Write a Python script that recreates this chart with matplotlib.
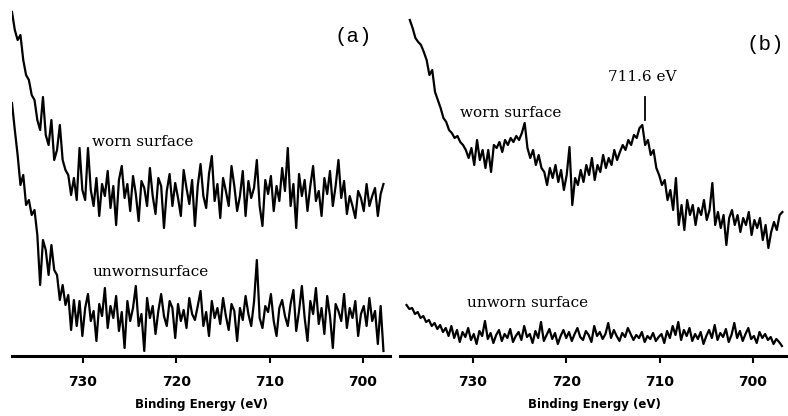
import numpy as np
from matplotlib import pyplot as plt

# XPS Fe 2p spectra, intensity in arbitrary units

# panel (a)
a_start, a_end = 737.6, 697.8
worn_a = [344, 326, 316, 321, 296, 281, 276, 261, 256, 236, 226, 259, 221, 211, 236, 196,
          206, 231, 196, 186, 181, 161, 178, 156, 208, 166,
          156, 208, 166, 150, 178, 140, 172, 160, 185, 148, 170, 131, 176, 190, 158, 172,
          145, 180, 162, 135, 175, 168, 150, 188, 160, 142, 178, 170, 128, 165, 182, 150,
          173, 158, 140, 186, 168, 152, 176, 130, 170, 192, 160, 148, 182, 200, 155, 172,
          138, 178, 165, 150, 190, 170, 145, 160, 185, 140, 175, 158, 168, 196, 150, 130,
          176, 162, 180, 145, 170, 155, 188, 165, 208, 150, 172, 128, 182, 160, 176, 145,
          170, 190, 155, 165, 140, 178, 162, 185, 150, 170, 196, 158, 175, 142, 160, 150,
          138, 165, 158, 145, 172, 150, 160, 168, 140, 162, 172]
unworn_a = [253, 226, 201, 171, 181, 151, 156, 141, 146, 121, 71, 116, 106, 81, 111, 86,
            81, 56, 71, 51, 61, 26, 56,
            30, 55, 20, 48, 62, 35, 45, 15, 52, 40, 68, 28, 50, 38, 60, 25, 44, 8,
            55, 35, 48, 70, 30, 42, 5, 58, 38, 50, 22, 45, 62, 40, 30, 55, 48, 18,
            52, 35, 46, 28, 58, 42, 36, 50, 65, 30, 44, 20, 55, 38, 48, 32, 58, 40,
            26, 52, 45, 15, 48, 36, 60, 42, 30, 54, 96, 38, 28, 50, 44, 62, 35, 20,
            48, 56, 40, 30, 52, 66, 25, 45, 70, 38, 15, 55, 42, 68, 32, 48, 22, 60,
            40, 8, 52, 45, 35, 62, 28, 48, 38, 55, 20, 42, 50, 30, 58, 35, 45, 12, 50, 5]

# panel (b)
b_worn_start, b_worn_end = 736.75, 696.85
worn_b = [336, 328, 318, 314, 311, 304, 296, 281, 286, 264, 256, 248, 238, 234, 226, 223,
          218, 220, 214, 211, 206, 198, 208, 191, 216, 196, 206, 188, 206, 184, 211, 208,
          214, 204, 216, 211, 218, 214, 220, 216, 223, 233, 208, 198, 206, 191, 201, 188,
          184, 171, 188, 178, 191, 174, 186, 166, 181, 209, 151, 178, 171, 186, 174, 191,
          181, 198, 176, 191, 184, 201, 188, 198, 191, 206, 196, 204, 211, 206, 216, 211,
          221, 218, 228, 231, 211, 216, 201, 206, 188, 181, 171, 176, 156, 166, 146, 178,
          131, 151, 126, 156, 141, 151, 131, 148, 141, 156, 136, 146, 173, 131, 144, 128,
          141, 111, 138, 146, 131, 141, 124, 138, 131, 144, 121, 136, 128, 138, 116, 131,
          108, 124, 134, 126, 141, 144]
b_unworn_start, b_unworn_end = 737.1, 696.9
unworn_b = [51, 47, 48, 42, 44, 38, 40, 34, 36, 30, 33, 27, 31, 24, 28,
            20, 30, 18, 26, 14, 24, 19, 28, 16, 22, 12, 25, 20, 35, 17, 23, 13, 21, 26, 15,
            22, 18, 27, 14, 20, 24, 16, 30, 19, 22, 13, 25, 18, 34, 15, 21, 27, 17, 23, 12,
            20, 26, 18, 24, 15, 22, 28, 19, 16, 25, 21, 14, 30, 20, 24, 17, 22, 33, 18, 26,
            20, 15, 23, 19, 28, 22, 16, 21, 18, 24, 14, 20, 17, 23, 15, 19, 22, 13, 25, 18,
            30, 21, 34, 16, 26, 20, 28, 15, 22, 17, 24, 12, 20, 26, 18, 31, 16, 23, 19, 27,
            14, 21, 33, 18, 25, 15, 22, 28, 17, 20, 13, 24, 18, 22, 16, 19, 12, 17, 14, 10]

ticks = [730, 720, 710, 700]
peak_ev = 711.6

fig = plt.figure(figsize=(7.88, 4.16), dpi=100)
ax1 = fig.add_axes([12 / 788, 60 / 416, 378 / 788, 350 / 416])
ax2 = fig.add_axes([400 / 788, 60 / 416, 388 / 788, 350 / 416])

kw = dict(color='black', lw=1.6)
ax1.plot(np.linspace(a_start, a_end, len(worn_a)), worn_a, **kw)
ax1.plot(np.linspace(a_start, a_end, len(unworn_a)), unworn_a, **kw)
ax2.plot(np.linspace(b_worn_start, b_worn_end, len(worn_b)), worn_b, **kw)
ax2.plot(np.linspace(b_unworn_start, b_unworn_end, len(unworn_b)), unworn_b, **kw)

ax1.set_xlim(737.6, 697.1)
ax2.set_xlim(737.8, 696.25)

for ax in (ax1, ax2):
    ax.set_ylim(0, 350)
    ax.set_yticks([])
    for s in ['top', 'left', 'right']:
        ax.spines[s].set_visible(False)
    ax.spines['bottom'].set_linewidth(2.2)
    ax.set_xticks(ticks)
    ax.set_xticklabels([str(t) for t in ticks], fontsize=10, fontweight='bold')
    ax.tick_params(axis='x', direction='out', length=5, width=1.5, pad=9)
    ax.set_xlabel('Binding Energy (eV)', fontsize=8.5, fontweight='bold', labelpad=6)
    ax.patch.set_alpha(0)

serif = 'DejaVu Serif'
ax1.text(729.0, 214, 'worn surface', family=serif, fontsize=11, va='center', ha='left')
ax1.text(729.0, 84, 'unwornsurface', family=serif, fontsize=11, va='center', ha='left')
ax1.text(701.0, 319, '(a)', family='Liberation Mono', fontsize=15, va='center', ha='center')

ax2.text(731.4, 243, 'worn surface', family=serif, fontsize=11, va='center', ha='left')
ax2.text(730.6, 53, 'unworn surface', family=serif, fontsize=11, va='center', ha='left')
ax2.text(698.7, 312, '(b)', family='Liberation Mono', fontsize=15, va='center', ha='center')
ax2.text(711.9, 279, '711.6 eV', family=serif, fontsize=11, va='center', ha='center')
ax2.plot([peak_ev, peak_ev], [236, 259], color='black', lw=1.3)

fig.savefig('out.png', dpi=100)
